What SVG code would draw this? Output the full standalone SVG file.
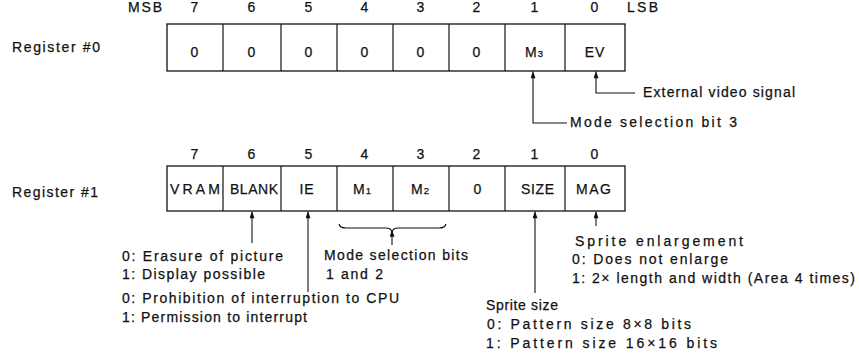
<svg xmlns="http://www.w3.org/2000/svg" width="859" height="356" viewBox="0 0 859 356">
<defs>
<style>
text{font-family:"Liberation Sans",Arial,sans-serif;font-size:14px;fill:#111;stroke:#111;stroke-width:0.25}
.c{text-anchor:middle;letter-spacing:1px}
.box{fill:#fff;stroke:#111;stroke-width:1.3}
.div{stroke:#111;stroke-width:1.2}
.ln{fill:none;stroke:#111;stroke-width:1.1}
.sub{font-size:9.5px;letter-spacing:0}
</style>
<marker id="ah" viewBox="0 0 8 6" refX="8" refY="3" markerWidth="8" markerHeight="5" markerUnits="userSpaceOnUse" orient="auto">
<path d="M0,0 L8,3 L0,6 z" fill="#111"/>
</marker>
</defs>
<rect width="859" height="356" fill="#fff"/>

<g id="header0">
<text x="128" y="12" textLength="34" lengthAdjust="spacing">MSB</text>
<text class="c" x="195" y="12">7</text>
<text class="c" x="252" y="12">6</text>
<text class="c" x="309" y="12">5</text>
<text class="c" x="365" y="12">4</text>
<text class="c" x="421" y="12">3</text>
<text class="c" x="477" y="12">2</text>
<text class="c" x="535" y="12">1</text>
<text class="c" x="595" y="12">0</text>
<text x="627" y="12" textLength="31" lengthAdjust="spacing">LSB</text>
</g>

<g id="register0">
<text x="12" y="52" textLength="88" lengthAdjust="spacing">Register #0</text>
<rect class="box" x="167" y="24" width="458" height="47"/>
<g class="div">
<line x1="223" y1="24" x2="223" y2="71"/>
<line x1="281" y1="24" x2="281" y2="71"/>
<line x1="337" y1="24" x2="337" y2="71"/>
<line x1="393" y1="24" x2="393" y2="71"/>
<line x1="449" y1="24" x2="449" y2="71"/>
<line x1="505" y1="24" x2="505" y2="71"/>
<line x1="565" y1="24" x2="565" y2="71"/>
</g>
<g id="r0b7"><text class="c" x="195" y="57">0</text></g>
<g id="r0b6"><text class="c" x="252" y="57">0</text></g>
<g id="r0b5"><text class="c" x="309" y="57">0</text></g>
<g id="r0b4"><text class="c" x="365" y="57">0</text></g>
<g id="r0b3"><text class="c" x="421" y="57">0</text></g>
<g id="r0b2"><text class="c" x="477" y="57">0</text></g>
<g id="r0b1"><text class="c" x="534" y="57">M<tspan class="sub">3</tspan></text></g>
<g id="r0b0"><text class="c" x="595" y="57">EV</text></g>
</g>

<g id="header1">
<text class="c" x="195" y="159">7</text>
<text class="c" x="252" y="159">6</text>
<text class="c" x="309" y="159">5</text>
<text class="c" x="365" y="159">4</text>
<text class="c" x="421" y="159">3</text>
<text class="c" x="477" y="159">2</text>
<text class="c" x="535" y="159">1</text>
<text class="c" x="595" y="159">0</text>
</g>

<g id="register1">
<text x="12" y="197" textLength="86" lengthAdjust="spacing">Register #1</text>
<rect class="box" x="167" y="166" width="458" height="45"/>
<g class="div">
<line x1="223" y1="166" x2="223" y2="211"/>
<line x1="281" y1="166" x2="281" y2="211"/>
<line x1="337" y1="166" x2="337" y2="211"/>
<line x1="393" y1="166" x2="393" y2="211"/>
<line x1="449" y1="166" x2="449" y2="211"/>
<line x1="505" y1="166" x2="505" y2="211"/>
<line x1="565" y1="166" x2="565" y2="211"/>
</g>
<g id="r1b7"><text x="170" y="194" textLength="50" lengthAdjust="spacing">VRAM</text></g>
<g id="r1b6"><text x="230" y="194" textLength="48" lengthAdjust="spacing">BLANK</text></g>
<g id="r1b5"><text class="c" x="307" y="194">IE</text></g>
<g id="r1b4"><text class="c" x="362" y="194">M<tspan class="sub">1</tspan></text></g>
<g id="r1b3"><text class="c" x="420" y="194">M<tspan class="sub">2</tspan></text></g>
<g id="r1b2"><text class="c" x="478" y="194">0</text></g>
<g id="r1b1"><text x="521" y="194" textLength="33" lengthAdjust="spacing">SIZE</text></g>
<g id="r1b0"><text x="576" y="194" textLength="35" lengthAdjust="spacing">MAG</text></g>
</g>

<g id="connectors" class="ln">
<path d="M635,93 H596 V71.5" marker-end="url(#ah)"/>
<path d="M567,123 H533 V71.5" marker-end="url(#ah)"/>
<path d="M252,243 V211.5" marker-end="url(#ah)"/>
<path d="M308,292 V211.5" marker-end="url(#ah)"/>
<path d="M339,224 Q340,228 346,228 H386 Q391,228 392,232 Q393,228 398,228 H439 Q445,228 446,224"/>
<path d="M392,245 V230" marker-end="url(#ah)"/>
<path d="M535,293 V211.5" marker-end="url(#ah)"/>
<path d="M596,226 V211.5" marker-end="url(#ah)"/>
</g>

<g id="note-ev"><text x="643" y="97" textLength="152" lengthAdjust="spacing">External video signal</text></g>
<g id="note-m3"><text x="570" y="127" textLength="167" lengthAdjust="spacing">Mode selection bit 3</text></g>
<g id="note-blank">
<text x="122" y="261" textLength="161" lengthAdjust="spacing">0: Erasure of picture</text>
<text x="122" y="279" textLength="143" lengthAdjust="spacing">1: Display possible</text>
</g>
<g id="note-mode">
<text x="324" y="260" textLength="144" lengthAdjust="spacing">Mode selection bits</text>
<text x="326" y="279" textLength="57" lengthAdjust="spacing">1 and 2</text>
</g>
<g id="note-ie">
<text x="122" y="303" textLength="277" lengthAdjust="spacing">0: Prohibition of interruption to CPU</text>
<text x="122" y="322" textLength="185" lengthAdjust="spacing">1: Permission to interrupt</text>
</g>
<g id="note-mag">
<text x="575" y="246" textLength="168" lengthAdjust="spacing">Sprite enlargement</text>
<text x="572" y="264" textLength="156" lengthAdjust="spacing">0: Does not enlarge</text>
<text x="572" y="283" textLength="283" lengthAdjust="spacing">1: 2× length and width (Area 4 times)</text>
</g>
<g id="note-size">
<text x="486" y="310" textLength="72" lengthAdjust="spacing">Sprite size</text>
<text x="487" y="329" textLength="204" lengthAdjust="spacing">0: Pattern size  8×8 bits</text>
<text x="486" y="348" textLength="231" lengthAdjust="spacing">1: Pattern size 16×16 bits</text>
</g>
</svg>
